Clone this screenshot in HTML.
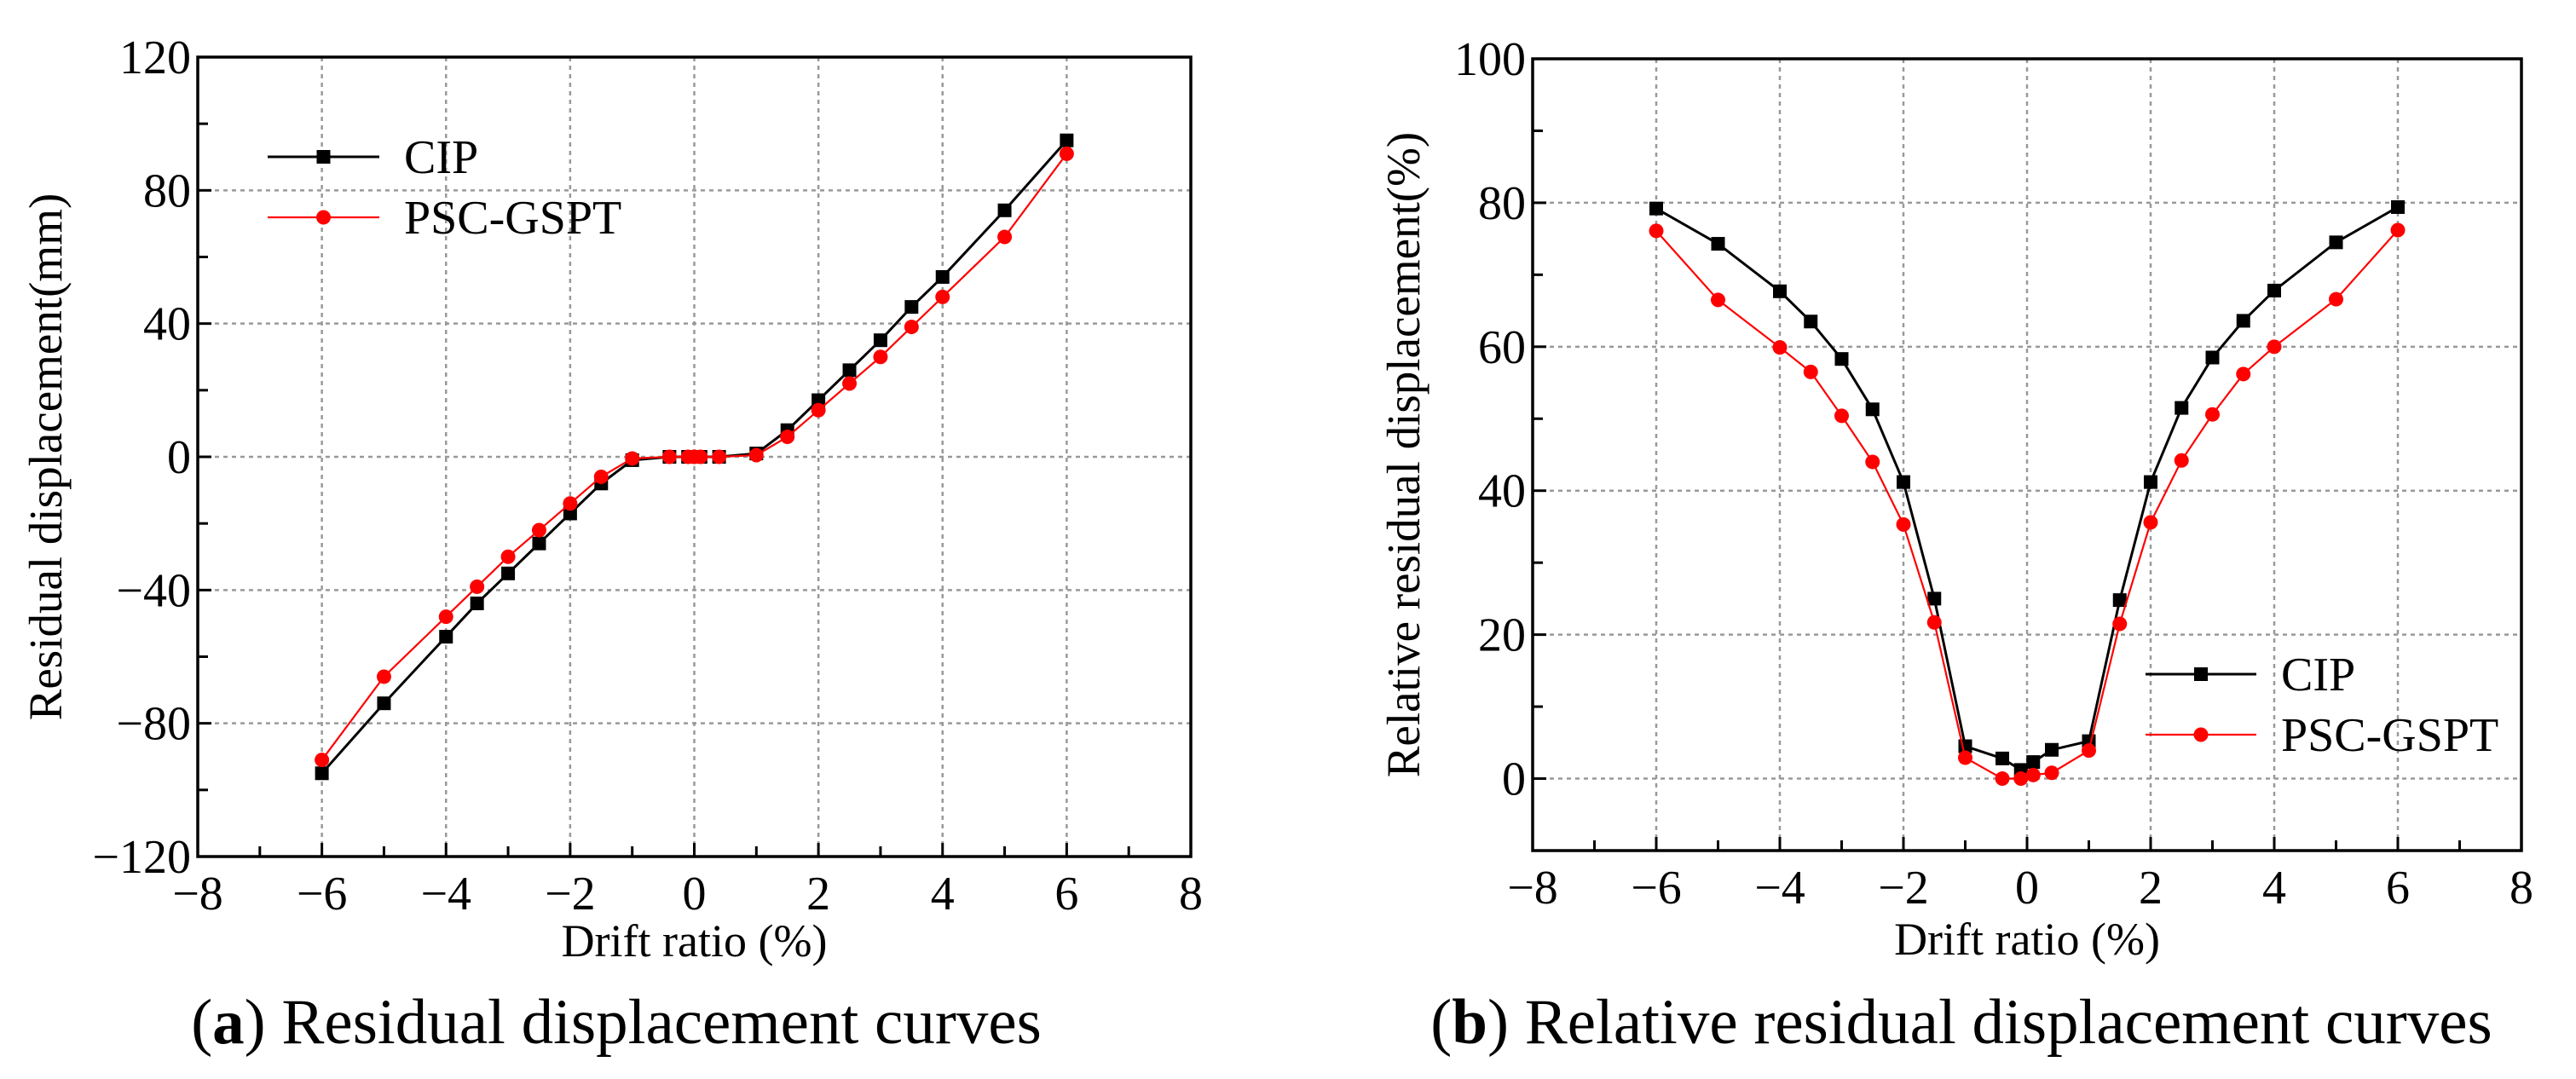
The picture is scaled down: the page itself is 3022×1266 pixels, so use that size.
<!DOCTYPE html>
<html><head><meta charset="utf-8"><style>
html,body{margin:0;padding:0;background:#fff;}
svg{display:block;font-family:"Liberation Serif","DejaVu Serif",serif;}
</style></head><body>
<svg id="fig" width="3022" height="1266" viewBox="0 0 3022 1266" xmlns="http://www.w3.org/2000/svg"></svg>
<script>
const xTicks=[-8,-6,-4,-2,0,2,4,6,8];
const xA=[-6,-5,-4,-3.5,-3,-2.5,-2,-1.5,-1,-0.4,-0.1,0,0.1,0.4,1,1.5,2,2.5,3,3.5,4,5,6];
const cipA=[-95,-74,-54,-44,-35,-26,-17,-8,-1,0,0,0,0,0,1,8,17,26,35,45,54,74,95];
const pscA=[-91,-66,-48,-39,-30,-22,-14,-6,-0.5,0,0,0,0,0,0.5,6,14,22,30,39,48,66,91];
const yTicksA=[-120,-80,-40,0,40,80,120];
const xB=[-6,-5,-4,-3.5,-3,-2.5,-2,-1.5,-1,-0.4,-0.1,0.1,0.4,1,1.5,2,2.5,3,3.5,4,5,6];
const cipB=[79.2,74.3,67.7,63.5,58.3,51.3,41.2,25,4.5,2.8,1.2,2.3,4,5.2,24.8,41.2,51.5,58.5,63.6,67.8,74.5,79.4];
const pscB=[76.1,66.5,59.9,56.5,50.4,44,35.3,21.7,2.9,0,0,0.5,0.8,3.9,21.5,35.6,44.2,50.6,56.2,60,66.6,76.2];
const yTicksB=[0,20,40,60,80,100];

const NS="http://www.w3.org/2000/svg";
const svg=document.getElementById('fig');
function mk(tag,attrs,parent){const e=document.createElementNS(NS,tag);for(const k in attrs)e.setAttribute(k,attrs[k]);(parent||svg).appendChild(e);return e;}

function panel(p){
  const g=mk('g',{});
  
  
  const sx=v=>p.L+(v-(-8))/16*(p.R-p.L);
  const sy=v=>p.B-(v-p.ymin)/(p.ymax-p.ymin)*(p.B-p.T);
  xTicks.forEach(t=>{if(t>-8&&t<8){const l=mk('line',{x1:sx(t),x2:sx(t),y1:p.T,y2:p.B,stroke:'#999','stroke-width':2.5,'stroke-dasharray':'5,5'},g);
    }});
  p.yt.forEach(t=>{if(t>p.ymin&&t<p.ymax){const l=mk('line',{x1:p.L,x2:p.R,y1:sy(t),y2:sy(t),stroke:'#999','stroke-width':2.5,'stroke-dasharray':'5,5'},g);
    }});
  for(let t=-8;t<=8;t+=1){const len=(t%2===0)?16:12;const l=mk('line',{x1:sx(t),x2:sx(t),y1:p.B,y2:p.B-len,stroke:'#000','stroke-width':3},g);
    }
  const step=p.yt[1]-p.yt[0];
  for(let t=p.ymin;t<=p.ymax+0.001;t+=step/2){const major=p.yt.includes(Math.round(t));const l=mk('line',{x1:p.L,x2:p.L+(major?16:12),y1:sy(t),y2:sy(t),stroke:'#000','stroke-width':3},g);
    }
  const fr=mk('rect',{x:p.L,y:p.T,width:p.R-p.L,height:p.B-p.T,fill:'none',stroke:'#000','stroke-width':3.5},g);
  
  xTicks.forEach(t=>{const tx=mk('text',{x:sx(t),y:p.B+62,'font-size':56,'text-anchor':'middle'},g);tx.textContent=(t<0?'\u2212':'')+Math.abs(t);
    });
  p.yt.forEach(t=>{const tx=mk('text',{x:p.L-8,y:sy(t)+19,'font-size':56,'text-anchor':'end'},g);tx.textContent=(t<0?'\u2212':'')+Math.abs(t);
    });
  const xt=mk('text',{x:(p.L+p.R)/2,y:p.xty,'font-size':54,'text-anchor':'middle'},g);xt.textContent='Drift ratio (%)';
  
  const yt=mk('text',{x:0,y:0,'font-size':55,'text-anchor':'middle',transform:`translate(${p.ytx},${(p.T+p.B)/2}) rotate(-90)`},g);yt.textContent=p.ylab;
  
  const series=[{ys:p.cip,c:'#000',w:3,sq:true,n:'cip'},{ys:p.psc,c:'#f00',w:2.2,sq:false,n:'psc-gspt'}];
  series.forEach(s=>{
    const pts=p.xs.map((x,i)=>sx(x)+','+sy(s.ys[i])).join(' ');
    const pl=mk('polyline',{points:pts,fill:'none',stroke:s.c,'stroke-width':s.w},g);
    
    p.xs.forEach((x,i)=>{let m;
      if(s.sq)m=mk('rect',{x:sx(x)-8,y:sy(s.ys[i])-8,width:16,height:16,fill:'#000'},g);
      else m=mk('circle',{cx:sx(x),cy:sy(s.ys[i]),r:8.5,fill:'#f00'},g);
      });
  });
  const lg=mk('g',{},g);
  [[p.leg.y1,'CIP',0],[p.leg.y2,'PSC-GSPT',1]].forEach(([y,txt,k])=>{
    const e=mk('g',{},lg);
    mk('line',{x1:p.leg.x1,x2:p.leg.x2,y1:y,y2:y,stroke:k?'#f00':'#000','stroke-width':k?2.2:3},e);
    const mx=(p.leg.x1+p.leg.x2)/2;
    if(k)mk('circle',{cx:mx,cy:y,r:8.5,fill:'#f00'},e);else mk('rect',{x:mx-8,y:y-8,width:16,height:16,fill:'#000'},e);
    const t=mk('text',{x:p.leg.tx,y:y+19,'font-size':56},e);t.textContent=txt;
  });
  const cap=mk('text',{x:p.capx,y:1224,'font-size':75,'text-anchor':'middle'},g);
  
  cap.innerHTML='(<tspan font-weight="bold">'+p.capL+'</tspan>) '+p.capT;
}

panel({name:'panel-a-residual-displacement',L:232,R:1397,T:67,B:1005,ymin:-120,ymax:120,yt:yTicksA,xs:xA,cip:cipA,psc:pscA,
  ylab:'Residual displacement(mm)',ytx:72,xty:1122,leg:{x1:314,x2:445,y1:184,y2:255,tx:474},capx:723,capL:'a',capT:'Residual displacement curves'});
panel({name:'panel-b-relative-residual-displacement',L:1798,R:2958,T:69,B:998,ymin:-10,ymax:100,yt:yTicksB,xs:xB,cip:cipB,psc:pscB,
  ylab:'Relative residual displacement(%)',ytx:1665,xty:1120,leg:{x1:2517,x2:2647,y1:791,y2:862,tx:2676},capx:2301,capL:'b',capT:'Relative residual displacement curves'});
</script>
</body></html>
